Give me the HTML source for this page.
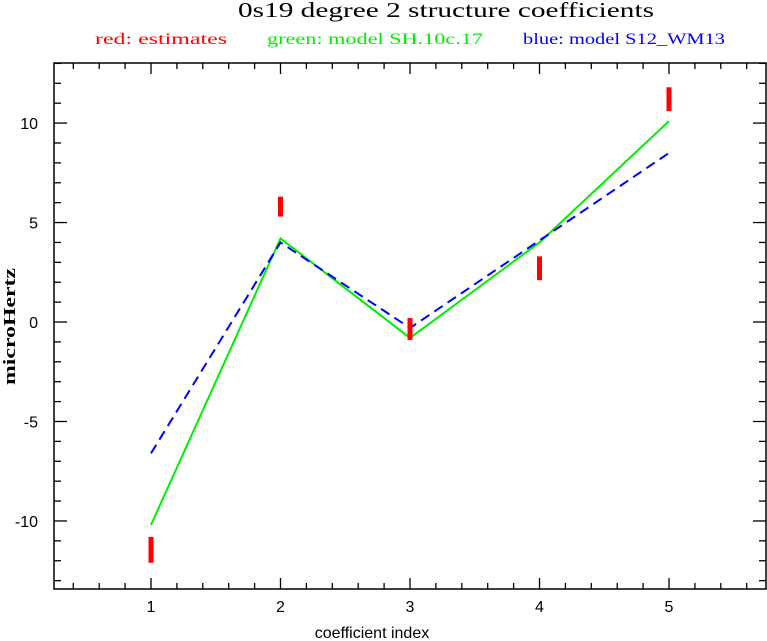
<!DOCTYPE html>
<html><head><meta charset="utf-8"><style>
body{margin:0;background:#fff;}
svg{display:block;font-family:"Liberation Sans",sans-serif;}
</style></head><body>
<svg id="chart" width="767" height="641" viewBox="0 0 767 641">
<text x="238" y="17" font-family="Liberation Serif" font-size="21" textLength="416" lengthAdjust="spacingAndGlyphs">0s19 degree 2 structure coefficients</text>
<text x="95" y="44" font-family="Liberation Serif" font-size="16" fill="#ff0000" textLength="132" lengthAdjust="spacingAndGlyphs">red: estimates</text>
<text x="267" y="44" font-family="Liberation Serif" font-size="16" fill="#00ee00" textLength="216" lengthAdjust="spacingAndGlyphs">green: model SH.10c.17</text>
<text x="523" y="44" font-family="Liberation Serif" font-size="16" fill="#0000ff" textLength="202" lengthAdjust="spacingAndGlyphs">blue: model S12_WM13</text>
<g id="axes"></g>
<g id="marks"></g>
<text x="372" y="638" font-size="16" text-anchor="middle">coefficient index</text>
<text transform="translate(15,385) rotate(-90)" font-family="Liberation Serif" font-weight="bold" font-size="17" textLength="117" lengthAdjust="spacingAndGlyphs">microHertz</text>
</svg>
<script>
const categories=[1,2,3,4,5];
const estLow=[-12.1,5.3,-0.9,2.1,10.6];
const estHigh=[-10.8,6.3,0.2,3.3,11.8];
const greenVals=[-10.2,4.2,-0.8,4.0,10.1];
const blueVals=[-6.6,4.0,-0.3,4.1,8.5];
const yTicks=[-10,-5,0,5,10];
const xTicks=[1,2,3,4,5];
const L=54,R=766,T=63,B=589;
const x0=0.251,x1=5.749,y0=-13.42,y1=13.02;
const X=v=>L+(v-x0)/(x1-x0)*(R-L);
const Y=v=>B-(v-y0)/(y1-y0)*(B-T);
const NS='http://www.w3.org/2000/svg';
function mk(t,a,p){const e=document.createElementNS(NS,t);for(const k in a)e.setAttribute(k,a[k]);p.appendChild(e);return e;}
const ax=document.getElementById('axes'),mg=document.getElementById('marks');
const fr=mk('rect',{x:L,y:T,width:R-L,height:B-T,fill:'none',stroke:'#000','stroke-width':1.5},ax);


for(let v=0.4;v<5.75;v+=0.2){const vv=Math.round(v*10)/10;const maj=Math.abs(vv-Math.round(vv))<1e-6;const len=maj?11:6;const x=X(vv);
mk('line',{x1:x,y1:B,x2:x,y2:B-len,stroke:'#000','stroke-width':1.3},ax);
mk('line',{x1:x,y1:T,x2:x,y2:T+len,stroke:'#000','stroke-width':1.3},ax);}
for(let v=-13;v<=13;v++){const maj=v%5===0;const len=maj?13:7;const y=Y(v);
mk('line',{x1:L,y1:y,x2:L+len,y2:y,stroke:'#000','stroke-width':1.3},ax);
mk('line',{x1:R,y1:y,x2:R-len,y2:y,stroke:'#000','stroke-width':1.3},ax);}
xTicks.forEach(v=>{const t=mk('text',{x:X(v),y:612,'font-size':16,'text-anchor':'middle'},ax);t.textContent=v;

});
yTicks.forEach(v=>{const t=mk('text',{x:38,y:Y(v)+6,'font-size':16,'text-anchor':'end'},ax);t.textContent=v;

});
const gp=mk('polyline',{points:categories.map((c,i)=>X(c)+','+Y(greenVals[i])).join(' '),fill:'none',stroke:'#00ee00','stroke-width':2},mg);


const bp=mk('polyline',{points:categories.map((c,i)=>X(c)+','+Y(blueVals[i])).join(' '),fill:'none',stroke:'#0000ff','stroke-width':2,'stroke-dasharray':'10,6'},mg);


categories.forEach((c,i)=>{const r=mk('rect',{x:X(c)-2.5,y:Y(estHigh[i]),width:5,height:Y(estLow[i])-Y(estHigh[i]),fill:'#ff0000'},mg);

});
</script>
</body></html>
